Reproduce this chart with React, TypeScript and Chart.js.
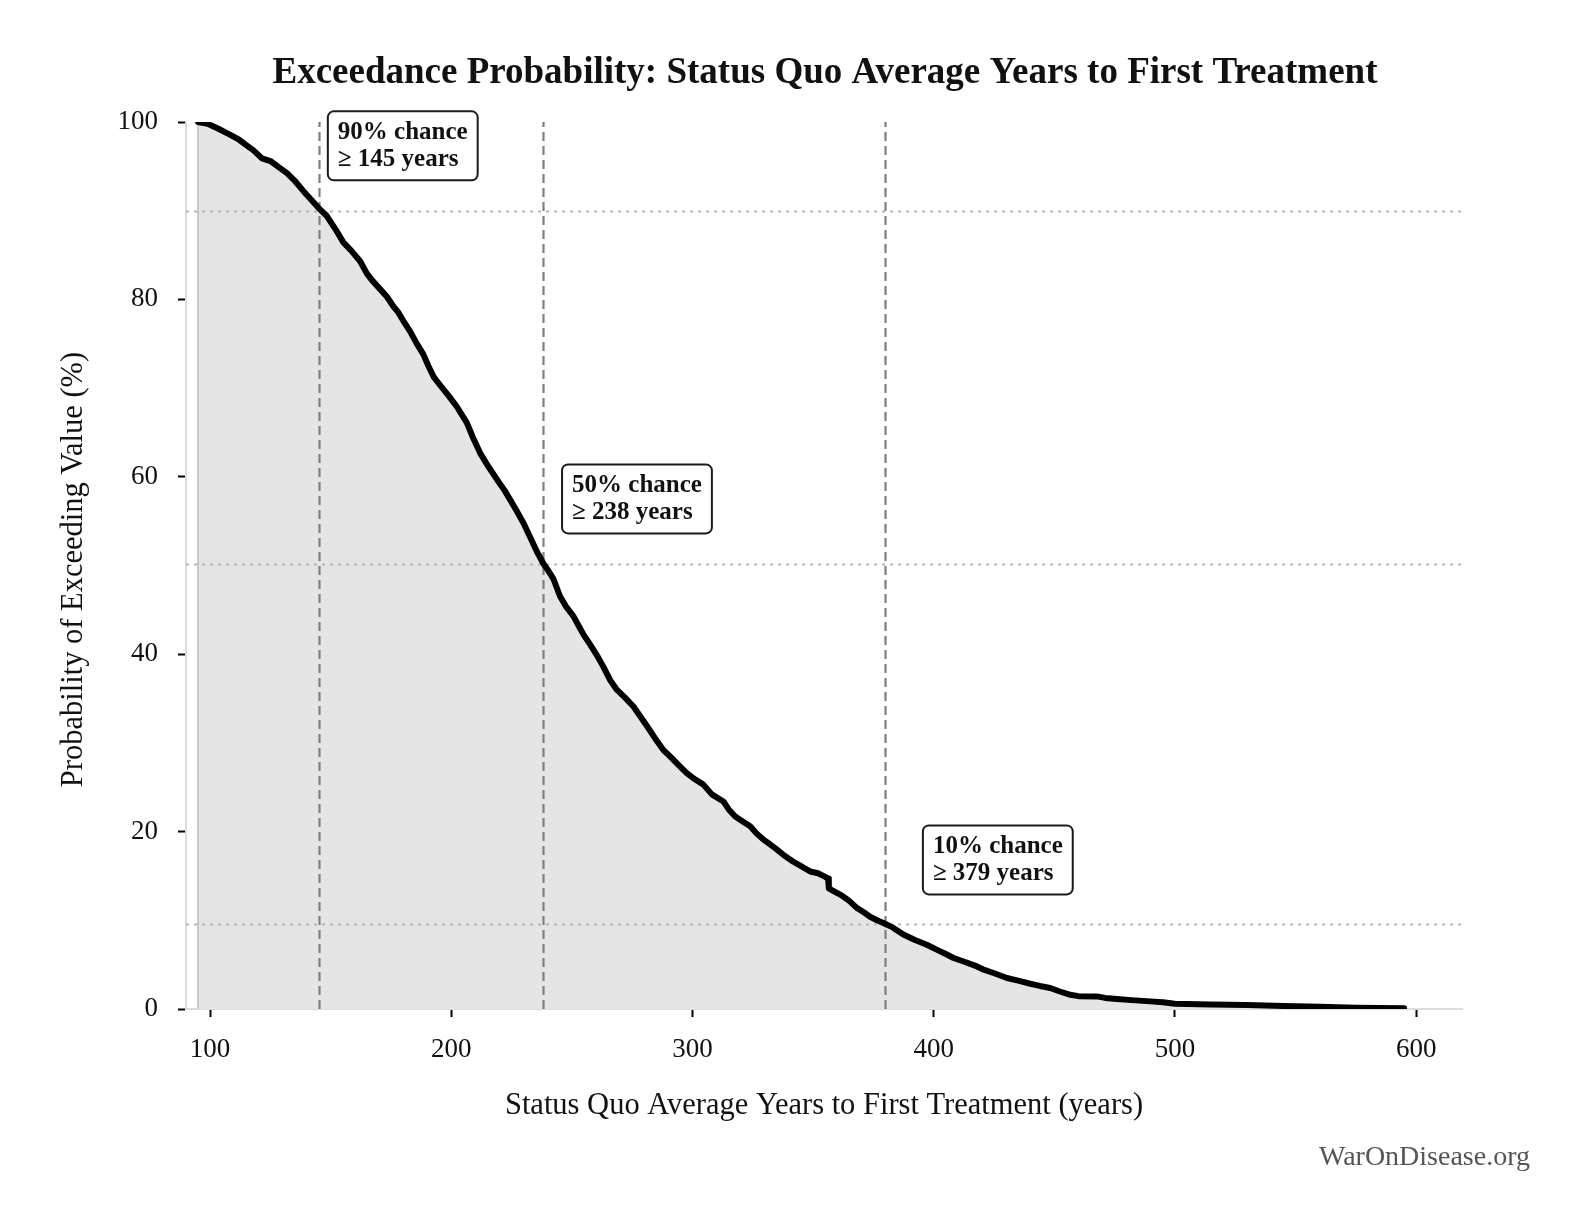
import React, { useEffect, useRef } from "react";
import { Chart, registerables } from "chart.js";

Chart.register(...registerables);

// exceedance curve (years, % of runs exceeding)
const years = [
  95, 99, 103, 108, 112, 115, 118, 121.5, 125, 128, 132, 135, 138.7, 142, 145,
  148.4, 152, 155.3, 158.5, 162.2, 165, 167, 170, 173.3, 176, 178.1, 180.5,
  182.9, 185.5, 188.4, 190.5, 192.6, 196, 199, 202.3, 206.4, 209, 211.9, 215,
  218.9, 222, 224.4, 227, 229.9, 232.5, 235.4, 238.2, 240, 242.3, 245.1, 247.5,
  250.6, 253, 254.8, 257.5, 260.3, 263, 265.8, 268.6, 272, 275.5, 278.3, 281.1,
  284.5, 287.9, 291, 293.5, 297.6, 301, 304.5, 308, 312.8, 315, 317.7, 320.5,
  323.9, 326.5, 329.4, 332, 334.9, 338, 341.8, 345, 348.8, 352, 355, 356.2,
  356.5, 358.5, 361.2, 364.5, 368.1, 371, 373.6, 376.5, 379.1, 383, 387.4, 392,
  397.1, 401.2, 405, 408.2, 413, 417.9, 421, 424.8, 430.3, 435, 440, 444, 448.3,
  452, 456.6, 460, 467.6, 471, 475.9, 482, 489.7, 495, 500, 505, 515, 530, 545,
  560, 575, 585, 595,
];
const exceedPct = [
  100, 99.8, 99.3, 98.6, 98.0, 97.4, 96.8, 95.9, 95.6, 95.0, 94.2, 93.4, 92.2,
  91.2, 90.3, 89.4, 87.9, 86.4, 85.5, 84.3, 82.9, 82.2, 81.3, 80.3, 79.2, 78.5,
  77.4, 76.4, 75.1, 73.8, 72.5, 71.3, 70.1, 69.1, 67.9, 66.1, 64.4, 62.7, 61.3,
  59.7, 58.5, 57.4, 56.2, 54.8, 53.3, 51.6, 50.2, 49.5, 48.5, 46.5, 45.4, 44.3,
  43.1, 42.2, 41.1, 39.9, 38.6, 37.1, 36.0, 35.1, 34.1, 33.0, 31.9, 30.5, 29.2,
  28.4, 27.7, 26.6, 25.9, 25.3, 24.2, 23.4, 22.5, 21.7, 21.2, 20.6, 19.8, 19.1,
  18.6, 18.0, 17.3, 16.6, 16.1, 15.5, 15.3, 14.9, 14.7, 13.6, 13.3, 12.9, 12.3,
  11.4, 10.9, 10.4, 10.0, 9.7, 9.2, 8.4, 7.8, 7.25, 6.7, 6.2, 5.75, 5.3, 4.8,
  4.4, 4.06, 3.5, 3.2, 2.85, 2.6, 2.37, 2.0, 1.6, 1.45, 1.42, 1.25, 1.13, 1.0,
  0.86, 0.75, 0.6, 0.55, 0.5, 0.45, 0.35, 0.25, 0.15, 0.1, 0.08,
];

const xTicks = [100, 200, 300, 400, 500, 600];
const yTicks = [0, 20, 40, 60, 80, 100];

// percentile markers: vertical at the value, horizontal at the curve level
const markerYears = [145.3, 238.1, 379.8];
const markerPct = [90, 50.2, 9.6];
const markerText = [
  ["90% chance", "\u2265 145 years"],
  ["50% chance", "\u2265 238 years"],
  ["10% chance", "\u2265 379 years"],
];
// top-left corner of each label box, in data units
const boxLeft = [148.8, 245.9, 395.5];
const boxTop = [101.2, 61.4, 20.7];

const TITLE = "Exceedance Probability: Status Quo Average Years to First Treatment";
const X_LABEL = "Status Quo Average Years to First Treatment (years)";
const Y_LABEL = "Probability of Exceeding Value (%)";
const CREDIT = "WarOnDisease.org";

const SERIF = '"Liberation Serif", "Times New Roman", serif';
const W = 1585;
const H = 1230;

const overlay = {
  id: "overlay",
  beforeDatasetDraw(chart: any, args: any) {
    if (args.index !== 0) return;
    const { ctx, chartArea: a, scales } = chart;
    const x = scales.x;
    const y = scales.y;
    ctx.save();
    ctx.lineWidth = 2;
    ctx.strokeStyle = "#b3b3b3";
    ctx.setLineDash([3, 5]);
    markerPct.forEach((p) => {
      const py = Math.round(y.getPixelForValue(p)) + 0.5;
      ctx.beginPath();
      ctx.moveTo(a.left, py);
      ctx.lineTo(a.right, py);
      ctx.stroke();
    });
    ctx.strokeStyle = "#7f7f7f";
    ctx.lineWidth = 2.2;
    ctx.setLineDash([9, 5]);
    markerYears.forEach((v) => {
      const px = Math.round(x.getPixelForValue(v)) + 0.5;
      ctx.beginPath();
      ctx.moveTo(px, y.getPixelForValue(0));
      ctx.lineTo(px, y.getPixelForValue(100));
      ctx.stroke();
    });
    ctx.restore();
  },
  afterDraw(chart: any) {
    const { ctx, chartArea: a, scales } = chart;
    const cx = (a.left + a.right) / 2;
    ctx.save();
    ctx.fillStyle = "#111";
    ctx.textAlign = "center";
    ctx.textBaseline = "alphabetic";
    ctx.font = `bold 37px ${SERIF}`;
    ctx.fillText(TITLE, cx + 1, 83);

    ctx.font = `30.5px ${SERIF}`;
    ctx.fillText(X_LABEL, cx, 1114);

    ctx.save();
    ctx.translate(82, (a.top + a.bottom) / 2 + 4);
    ctx.rotate(-Math.PI / 2);
    ctx.fillText(Y_LABEL, 0, 0);
    ctx.restore();

    ctx.textAlign = "right";
    ctx.fillStyle = "#555";
    ctx.font = `28px ${SERIF}`;
    ctx.fillText(CREDIT, 1530, 1165);

    // label boxes
    ctx.font = `bold 25px ${SERIF}`;
    ctx.textAlign = "left";
    markerText.forEach((lines, i) => {
      const left = scales.x.getPixelForValue(boxLeft[i]);
      const top = scales.y.getPixelForValue(boxTop[i]);
      const w = Math.max(...lines.map((l) => ctx.measureText(l).width)) + 20;
      const h = 69;
      ctx.beginPath();
      ctx.roundRect(left, top, w, h, 6);
      ctx.fillStyle = "#fff";
      ctx.fill();
      ctx.lineWidth = 2;
      ctx.strokeStyle = "#1a1a1a";
      ctx.stroke();
      ctx.fillStyle = "#111";
      ctx.fillText(lines[0], left + 10, top + 27.5);
      ctx.fillText(lines[1], left + 10, top + 55);
    });
    ctx.restore();
  },
};

const App: React.FC = () => {
  const canvasRef = useRef<HTMLCanvasElement | null>(null);

  useEffect(() => {
    if (!canvasRef.current) return;
    const curve = years.map((v, i) => ({ x: v, y: exceedPct[i] }));
    // fill polygon starts on the baseline so its left edge shows
    const area = [{ x: years[0], y: 0 }, ...curve];

    const chart = new Chart(canvasRef.current, {
      type: "line",
      data: {
        datasets: [
          {
            data: curve,
            borderColor: "#000",
            borderWidth: 6,
            borderJoinStyle: "round",
            borderCapStyle: "round",
            pointRadius: 0,
            tension: 0,
            fill: false,
            order: 0,
          },
          {
            data: area,
            borderColor: "#c9c9c9",
            borderWidth: 2,
            backgroundColor: "#e5e5e5",
            pointRadius: 0,
            tension: 0,
            fill: "origin",
            order: 1,
          },
        ],
      },
      options: {
        responsive: false,
        animation: false,
        events: [],
        layout: { padding: { left: 0, top: 122, right: W - 1462, bottom: 0 } },
        plugins: {
          legend: { display: false },
          title: { display: false },
          tooltip: { enabled: false },
        },
        scales: {
          x: {
            type: "linear",
            min: 90,
            max: 619,
            afterBuildTicks: (s: any) => {
              s.ticks = xTicks.map((v) => ({ value: v }));
            },
            afterFit: (s: any) => {
              s.height = H - 1009;
            },
            grid: {
              drawOnChartArea: false,
              tickLength: 8,
              tickWidth: 2,
              tickColor: "#000",
            },
            border: { color: "#dcdcdc", width: 2 },
            ticks: {
              padding: 17,
              maxRotation: 0,
              color: "#111",
              font: { family: SERIF, size: 27 },
            },
          },
          y: {
            type: "linear",
            min: 0,
            max: 100,
            afterBuildTicks: (s: any) => {
              s.ticks = yTicks.map((v) => ({ value: v }));
            },
            afterFit: (s: any) => {
              s.width = 186;
            },
            grid: {
              drawOnChartArea: false,
              tickLength: 8,
              tickWidth: 2,
              tickColor: "#000",
            },
            border: { color: "#dcdcdc", width: 2 },
            ticks: {
              padding: 20,
              color: "#111",
              font: { family: SERIF, size: 27 },
            },
          },
        },
      },
      plugins: [overlay],
    } as any);

    return () => {
      chart.destroy();
    };
  }, []);

  return (
    <div
      style={{
        position: "absolute",
        left: 0,
        top: 0,
        width: W,
        height: H,
        background: "#fff",
      }}
    >
      <canvas
        ref={canvasRef}
        width={W}
        height={H}
        style={{ width: W, height: H, display: "block" }}
      />
    </div>
  );
};

export default App;
